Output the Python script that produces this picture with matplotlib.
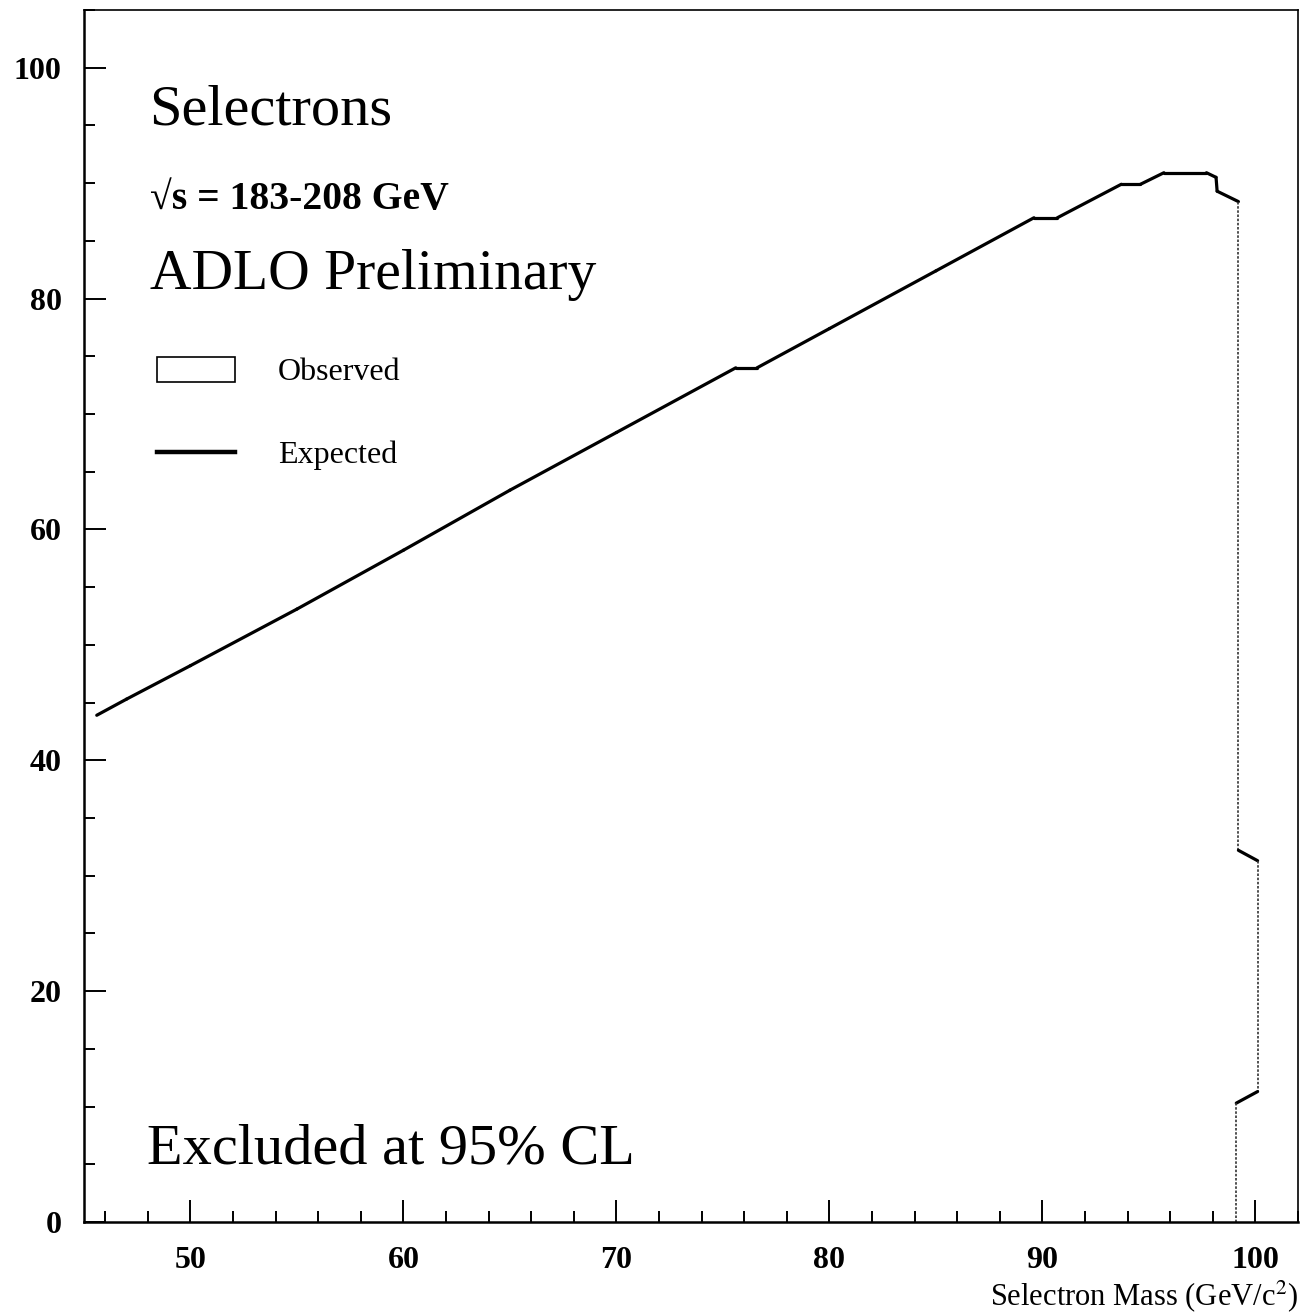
import matplotlib
matplotlib.use("Agg")
import matplotlib.pyplot as plt
from matplotlib.patches import Rectangle
from matplotlib.ticker import MultipleLocator

plt.rcParams["font.family"] = ["Liberation Serif", "DejaVu Serif"]
plt.rcParams["mathtext.fontset"] = "stix"

# excluded-region boundary (selectron mass vs. neutralino mass)
mass = [45.6, 47.0, 50.0, 55.0, 60.0, 65.0, 70.0, 75.6, 76.6, 80.0, 85.0,
        89.6, 90.7, 93.7, 94.6, 95.7, 97.7, 98.15, 98.2, 99.2, 99.2, 100.1,
        100.1, 99.1, 99.1]
limit = [43.9, 45.3, 48.2, 53.1, 58.2, 63.4, 68.4, 74.0, 74.0, 77.4, 82.4,
         87.0, 87.0, 89.9, 89.9, 90.9, 90.9, 90.5, 89.3, 88.4, 32.2, 31.3,
         11.3, 10.3, 0.0]

x_major = [50, 60, 70, 80, 90, 100]
y_major = [0, 20, 40, 60, 80, 100]

fig = plt.figure(figsize=(13.08, 13.13), dpi=100)
ax = fig.add_axes([0.0642, 0.0693, 0.9282, 0.9231])
ax.set_xlim(45, 102)
ax.set_ylim(0, 105)

# sloped parts drawn solid, vertical drops drawn as a thin dotted trace
for i in range(len(mass) - 1):
    xs = mass[i:i + 2]
    ys = limit[i:i + 2]
    if xs[0] == xs[1]:
        ax.plot(xs, ys, color="#333333", lw=1.2, ls=(0, (1.5, 1.0)),
                solid_capstyle="butt")
    else:
        ax.plot(xs, ys, color="black", lw=2.3, solid_capstyle="round")

ax.set_xticks(x_major)
ax.set_yticks(y_major)
ax.xaxis.set_minor_locator(MultipleLocator(2))
ax.yaxis.set_minor_locator(MultipleLocator(5))
ax.tick_params(which="both", direction="in", top=False, right=False,
               width=1.4, labelsize=23, colors="black")
ax.tick_params(which="major", length=16)
ax.tick_params(which="minor", length=8)
ax.tick_params(axis="x", pad=17)
ax.tick_params(axis="y", pad=16)
for lbl in ax.get_xticklabels() + ax.get_yticklabels():
    lbl.set_fontweight("bold")
for side in ["left", "bottom"]:
    ax.spines[side].set_linewidth(1.8)
for side in ["top", "right"]:
    ax.spines[side].set_linewidth(1.2)

fig.text(0.9924, 0.0128, r"Selectron Mass (GeV/c$^2$)", ha="right",
         va="center", fontsize=22)

tr = ax.transAxes
ax.text(0.054, 0.917, "Selectrons", transform=tr, fontsize=42,
        va="center", ha="left")
ax.text(0.054, 0.844, "\u221as = 183-208 GeV", transform=tr, fontsize=28.5,
        fontweight="bold", va="center", ha="left")
ax.text(0.054, 0.781, "ADLO Preliminary", transform=tr, fontsize=41.5,
        va="center", ha="left")

# legend
ax.add_patch(Rectangle((0.060, 0.693), 0.064, 0.0206, transform=tr,
                       facecolor="white", edgecolor="black", lw=1.2))
ax.text(0.160, 0.701, "Observed", transform=tr, fontsize=23,
        va="center", ha="left")
ax.plot([0.060, 0.124], [0.635, 0.635], transform=tr, color="black", lw=3.2)
ax.text(0.160, 0.633, "Expected", transform=tr, fontsize=23,
        va="center", ha="left")

ax.text(0.052, 0.060, "Excluded at 95% CL", transform=tr, fontsize=42,
        va="center", ha="left")

fig.savefig("out.png", dpi=100, facecolor="white")
